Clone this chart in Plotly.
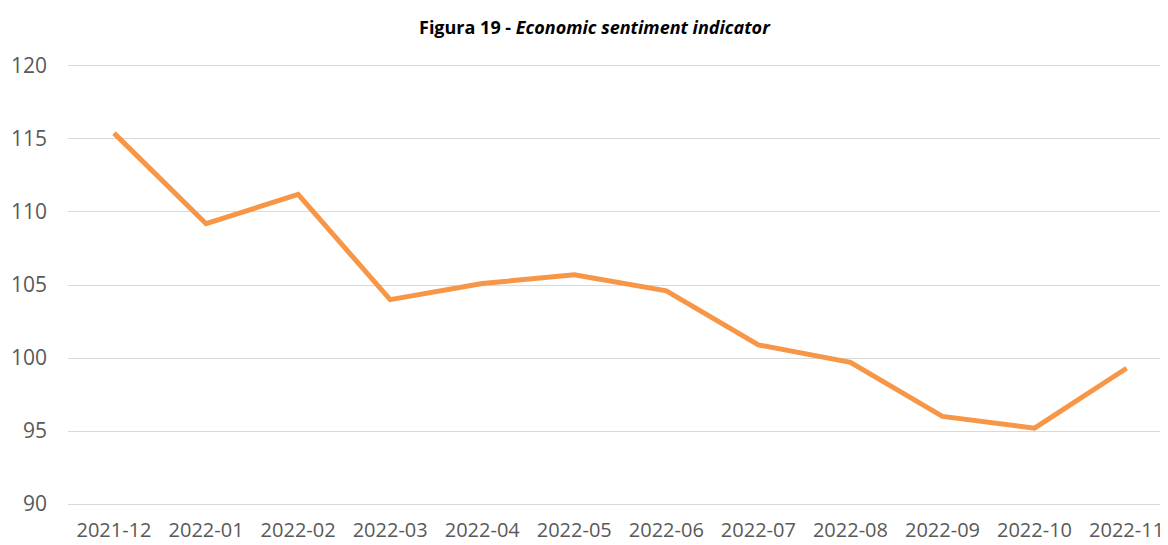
import plotly.graph_objects as go

# Data
months = ['2021-12', '2022-01', '2022-02', '2022-03', '2022-04', '2022-05',
          '2022-06', '2022-07', '2022-08', '2022-09', '2022-10', '2022-11']
esi_values = [115.4, 109.2, 111.2, 104.0, 105.1, 105.7,
              104.6, 100.9, 99.7, 96.0, 95.2, 99.3]
y_ticks = [90, 95, 100, 105, 110, 115, 120]

fig = go.Figure()

fig.add_trace(go.Scatter(
    x=months,
    y=esi_values,
    mode='lines',
    line=dict(color='#F79646', width=5),
    showlegend=False
))

# Title with bold prefix and bold-italic name
fig.add_annotation(
    text="<b>Figura 19 - <i>Economic sentiment indicator</i></b>",
    xref='paper', yref='paper',
    x=(595 - 68) / 1100, y=1 + 36 / 444,
    xanchor='center', yanchor='middle',
    showarrow=False,
    font=dict(family='Open Sans', size=18, color='#000000')
)

# page body adds an 8px offset, so the figure is sized to fit the window
fig.update_layout(
    width=1160,
    height=537,
    margin=dict(l=60, r=0, t=55, b=38),
    plot_bgcolor='white',
    paper_bgcolor='white',
    font=dict(family='Open Sans', size=21, color='#595959')
)

fig.update_xaxes(
    type='category',
    range=[-0.5, 11.45],
    showgrid=False,
    showline=False,
    ticks='',
    tickfont=dict(size=20),
    ticklabelstandoff=9,
    automargin=False
)

# small padding so the 90 and 120 gridlines are not clipped
fig.update_yaxes(
    range=[89.8, 120.2],
    tickvals=y_ticks,
    showgrid=True,
    gridcolor='#D9D9D9',
    gridwidth=1.3,
    zeroline=False,
    showline=False,
    ticks='',
    ticklabelstandoff=20,
    automargin=False
)

fig.write_html("out.html")
